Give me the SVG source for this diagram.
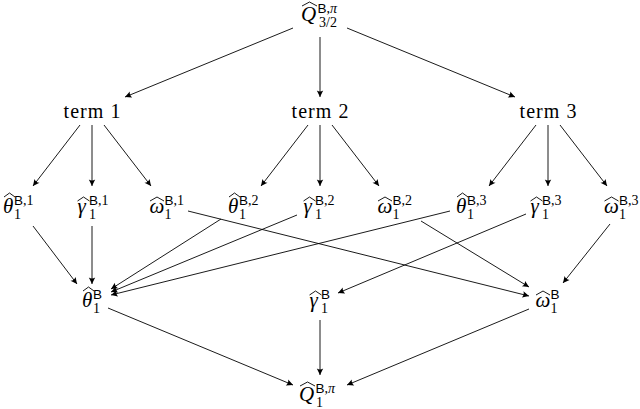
<svg xmlns="http://www.w3.org/2000/svg" width="640" height="409" viewBox="0 0 640 409">
<defs>
<style>
.m{font-family:"Liberation Serif","DejaVu Serif",serif;font-style:italic;font-size:21px;fill:#000}
.t{font-family:"Liberation Serif",serif;font-size:20px;fill:#000}
.r{font-family:"Liberation Serif",serif;font-size:14px;fill:#000}
.s{font-family:"Liberation Sans",sans-serif;font-size:13.5px}
.i{font-style:italic}
.hat{fill:none;stroke:#000;stroke-width:0.9}
.e{fill:none;stroke:#000;stroke-width:0.9;marker-end:url(#a)}
</style>
<marker id="a" markerUnits="userSpaceOnUse" markerWidth="10" markerHeight="10" refX="0" refY="0" orient="auto" overflow="visible">
<path d="M0,0 L-6.5,-3.2 Q-4.6,0 -6.5,3.2 Z" fill="#000"/>
</marker>
</defs>
<rect width="640" height="409" fill="#fff"/>

<g id="connectors">
<line class="e" x1="293" y1="28" x2="125" y2="97"/>
<line class="e" x1="320" y1="37" x2="320" y2="97"/>
<line class="e" x1="347" y1="28" x2="515" y2="97"/>
<line class="e" x1="80" y1="125" x2="33" y2="186"/>
<line class="e" x1="92" y1="125" x2="92" y2="186"/>
<line class="e" x1="104" y1="125" x2="151" y2="186"/>
<line class="e" x1="308" y1="125" x2="261" y2="186"/>
<line class="e" x1="320" y1="125" x2="320" y2="186"/>
<line class="e" x1="332" y1="125" x2="379" y2="186"/>
<line class="e" x1="536" y1="125" x2="489" y2="186"/>
<line class="e" x1="548" y1="125" x2="548" y2="186"/>
<line class="e" x1="560" y1="125" x2="607" y2="186"/>
<line class="e" x1="33" y1="226" x2="77" y2="284"/>
<line class="e" x1="92" y1="226" x2="92" y2="284"/>
<line class="e" x1="188" y1="211" x2="529" y2="296"/>
<line class="e" x1="221" y1="219" x2="111" y2="289"/>
<line class="e" x1="297" y1="215" x2="111" y2="292"/>
<line class="e" x1="450" y1="211" x2="111" y2="295"/>
<line class="e" x1="421" y1="221" x2="529" y2="287"/>
<line class="e" x1="526" y1="214" x2="338" y2="293"/>
<line class="e" x1="610" y1="224" x2="563" y2="283"/>
<line class="e" x1="108" y1="308" x2="293" y2="385"/>
<line class="e" x1="320" y1="320" x2="320" y2="375"/>
<line class="e" x1="529" y1="309" x2="347" y2="385"/>
</g>

<g id="Q32">
<path class="hat" d="M302,6 L309.5,2 L317,6"/>
<text class="m" x="301" y="21">Q</text>
<text class="r" x="317.5" y="13"><tspan class="s">B</tspan>,<tspan class="i">π</tspan></text>
<text class="r" x="319" y="27">3/2</text>
</g>

<g id="term1"><text class="t" x="92" y="118" text-anchor="middle" textLength="57" lengthAdjust="spacing">term 1</text></g>
<g id="term2"><text class="t" x="320" y="118" text-anchor="middle" textLength="57" lengthAdjust="spacing">term 2</text></g>
<g id="term3"><text class="t" x="548" y="118" text-anchor="middle" textLength="57" lengthAdjust="spacing">term 3</text></g>

<g id="theta1">
<path class="hat" d="M4,197 L9.5,193 L15,197"/>
<text class="m" x="3" y="213">θ</text>
<text class="r" x="14" y="205"><tspan class="s">B</tspan>,1</text>
<text class="r" x="14" y="219">1</text>
</g>
<g id="gamma1">
<path class="hat" d="M77.5,201 L83.5,197 L89.5,201"/>
<text class="m" x="77.5" y="213">γ</text>
<text class="r" x="89" y="205"><tspan class="s">B</tspan>,1</text>
<text class="r" x="89" y="219">1</text>
</g>
<g id="omega1">
<path class="hat" d="M150,201 L157,197 L164,201"/>
<text class="m" x="149.5" y="213">ω</text>
<text class="r" x="164.5" y="205"><tspan class="s">B</tspan>,1</text>
<text class="r" x="164.5" y="219">1</text>
</g>

<g id="theta2">
<path class="hat" d="M229,197 L234.5,193 L240,197"/>
<text class="m" x="228" y="213">θ</text>
<text class="r" x="239" y="205"><tspan class="s">B</tspan>,2</text>
<text class="r" x="239" y="219">1</text>
</g>
<g id="gamma2">
<path class="hat" d="M303.5,201 L309.5,197 L315.5,201"/>
<text class="m" x="303.5" y="213">γ</text>
<text class="r" x="315" y="205"><tspan class="s">B</tspan>,2</text>
<text class="r" x="315" y="219">1</text>
</g>
<g id="omega2">
<path class="hat" d="M378,201 L385,197 L392,201"/>
<text class="m" x="377.5" y="213">ω</text>
<text class="r" x="392.5" y="205"><tspan class="s">B</tspan>,2</text>
<text class="r" x="392.5" y="219">1</text>
</g>

<g id="theta3">
<path class="hat" d="M457,197 L462.5,193 L468,197"/>
<text class="m" x="456" y="213">θ</text>
<text class="r" x="467" y="205"><tspan class="s">B</tspan>,3</text>
<text class="r" x="467" y="219">1</text>
</g>
<g id="gamma3">
<path class="hat" d="M530.5,201 L536.5,197 L542.5,201"/>
<text class="m" x="530.5" y="213">γ</text>
<text class="r" x="542" y="205"><tspan class="s">B</tspan>,3</text>
<text class="r" x="542" y="219">1</text>
</g>
<g id="omega3">
<path class="hat" d="M604.5,201 L611.5,197 L618.5,201"/>
<text class="m" x="604" y="213">ω</text>
<text class="r" x="619" y="205"><tspan class="s">B</tspan>,3</text>
<text class="r" x="619" y="219">1</text>
</g>

<g id="thetaB">
<path class="hat" d="M83,291 L88.5,287 L94,291"/>
<text class="m" x="82" y="307">θ</text>
<text class="r" x="93" y="299"><tspan class="s">B</tspan></text>
<text class="r" x="93" y="313">1</text>
</g>
<g id="gammaB">
<path class="hat" d="M309.5,295 L315.5,291 L321.5,295"/>
<text class="m" x="309.5" y="307">γ</text>
<text class="r" x="321" y="299"><tspan class="s">B</tspan></text>
<text class="r" x="321" y="313">1</text>
</g>
<g id="omegaB">
<path class="hat" d="M536,295 L543,291 L550,295"/>
<text class="m" x="535.5" y="307">ω</text>
<text class="r" x="550.5" y="299"><tspan class="s">B</tspan></text>
<text class="r" x="550.5" y="313">1</text>
</g>

<g id="Q1">
<path class="hat" d="M300,386 L307.5,382 L315,386"/>
<text class="m" x="299" y="401">Q</text>
<text class="r" x="315.5" y="393"><tspan class="s">B</tspan>,<tspan class="i">π</tspan></text>
<text class="r" x="316" y="407">1</text>
</g>
</svg>
